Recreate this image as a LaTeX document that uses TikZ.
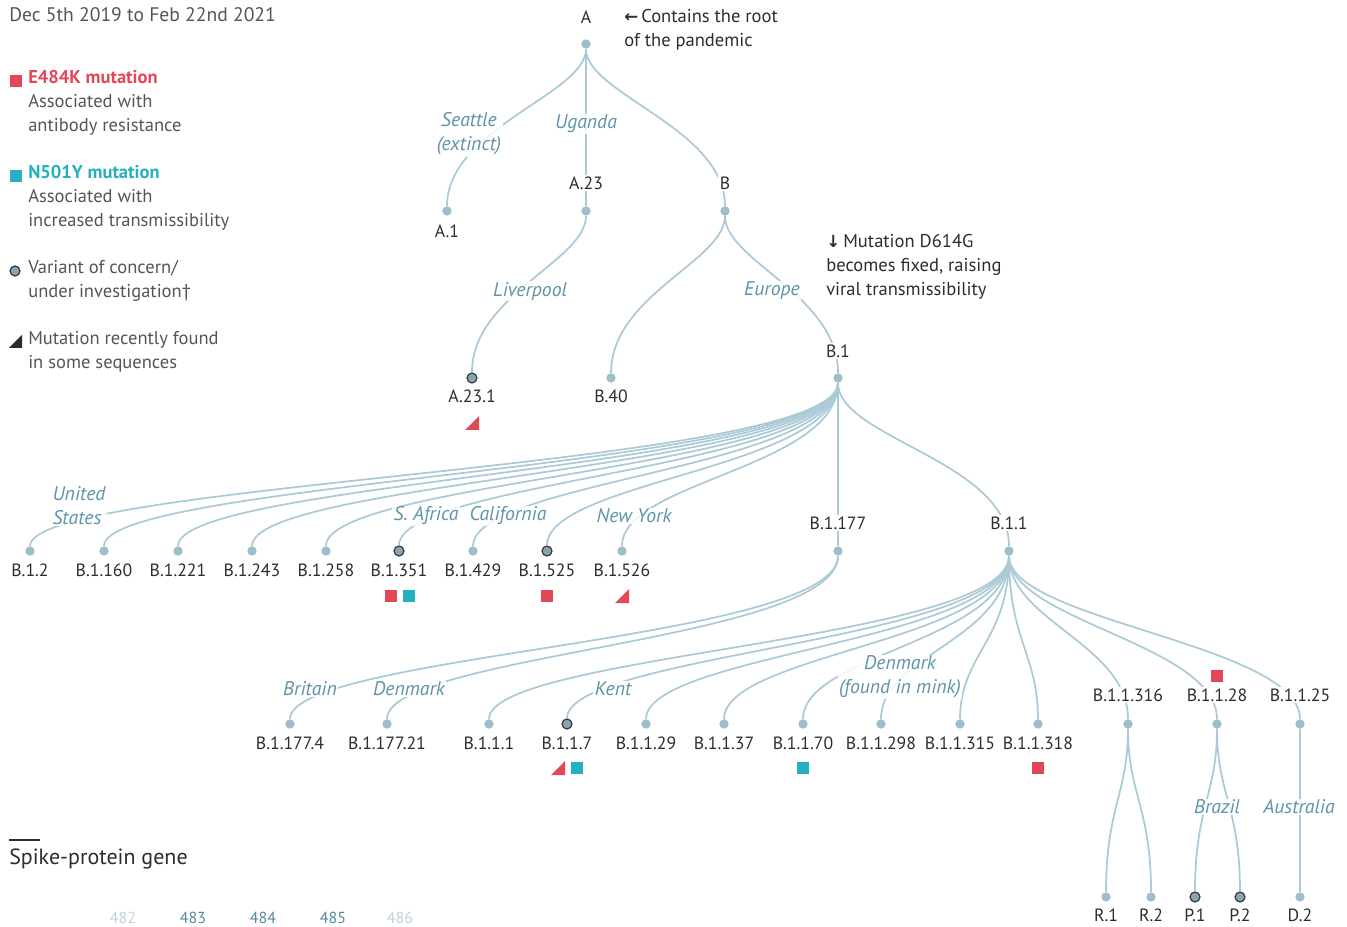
\documentclass[tikz,border=0pt]{standalone}
\usepackage{fontspec}
\setmainfont{PT Sans}
\newfontfamily\symf{DejaVu Sans}
\definecolor{linec}{RGB}{172,202,214}
\definecolor{dotc}{RGB}{158,190,203}
\definecolor{vocf}{RGB}{138,164,175}
\definecolor{vocd}{RGB}{50,60,66}
\definecolor{placec}{RGB}{96,148,168}
\definecolor{labc}{RGB}{45,45,45}
\definecolor{legc}{RGB}{85,85,85}
\definecolor{redc}{RGB}{226,72,88}
\definecolor{tealc}{RGB}{36,176,193}
\definecolor{numc}{RGB}{84,136,158}
\definecolor{numl}{RGB}{190,210,219}
\newcommand\brch[4]{\draw[edge] (#1) .. controls +(0,#3) and +(0,-#4) .. (#2);}
\newcommand\rtri[2]{\fill[redc] (#1-7,#2+7) -- (#1+7,#2+7) -- (#1+7,#2-7) -- cycle;}
\begin{document}
\begin{tikzpicture}[x=0.75pt,y=-0.75pt,
  edge/.style={draw=linec, line width=1.3pt},
  dot/.style={circle, fill=dotc, inner sep=0pt, minimum size=7pt},
  voc/.style={circle, fill=vocf, draw=vocd, line width=0.9pt, inner sep=0pt, minimum size=7.5pt},
  lab/.style={font=\fontsize{13.3}{15}\selectfont, text=labc, inner sep=1pt, fill=white},
  place/.style={font=\itshape\fontsize{14.8}{18}\selectfont, text=placec, align=center, inner sep=1pt, fill=white, fill opacity=0.85, text opacity=1},
  leg/.style={font=\fontsize{13.9}{18}\selectfont, text=legc, align=left, anchor=base west, inner sep=0pt},
  rsq/.style={fill=redc, inner sep=0pt, minimum size=9.5pt},
  tsq/.style={fill=tealc, inner sep=0pt, minimum size=9.5pt}]
\useasboundingbox (0,0) rectangle (1347,927);
% ---------- dots ----------
\node[dot] (A) at (586,44) {};
\node[dot] (A1) at (447,211) {};
\node[dot] (A23) at (586,211) {};
\node[dot] (B) at (725,211) {};
\node[voc] (A231) at (472,378) {};
\node[dot] (B40) at (611,378) {};
\node[dot] (B1) at (838,378) {};
\foreach \n/\x/\s in {B12/30/dot,B1160/104/dot,B1221/178/dot,B1243/252/dot,B1258/326/dot,B1351/399/voc,B1429/473/dot,B1525/547/voc,B1526/622/dot,B1177/838/dot,B11/1009/dot}
  \node[\s] (\n) at (\x,551) {};
\foreach \n/\x/\s in {B11774/290/dot,B117721/387/dot,B111/489/dot,B117/567/voc,B1129/646/dot,B1137/724/dot,B1170/803/dot,B11298/881/dot,B11315/960/dot,B11318/1038/dot,B11316/1128/dot,B1128/1217/dot,B1125/1300/dot}
  \node[\s] (\n) at (\x,724) {};
\foreach \n/\x/\s in {R1/1106/dot,R2/1151/dot,P1/1195/voc,P2/1240/voc,D2/1300/dot}
  \node[\s] (\n) at (\x,897) {};
% ---------- edges ----------
\brch{A}{A1}{50}{83}
\draw[edge] (A) -- (A23);
\brch{A}{B}{50}{83}
\brch{A23}{A231}{50}{83}
\brch{B}{B40}{50}{83}
\brch{B}{B1}{50}{83}
\foreach \n in {B12,B1160,B1221,B1243,B1258,B1351,B1429,B1525,B1526}
  {\brch{B1}{\n}{90}{70}}
\draw[edge] (B1) -- (B1177);
\brch{B1}{B11}{60}{90}
\brch{B1177}{B11774}{90}{70}
\brch{B1177}{B117721}{90}{70}
\foreach \n in {B111,B117,B1129,B1137,B1170,B11298,B11315,B11318}
  {\brch{B11}{\n}{90}{70}}
\foreach \n in {B11316,B1128,B1125}
  {\brch{B11}{\n}{70}{80}}
\brch{B11316}{R1}{70}{90}
\brch{B11316}{R2}{70}{90}
\brch{B1128}{P1}{70}{90}
\brch{B1128}{P2}{70}{90}
\draw[edge] (B1125) -- (D2);
% ---------- node labels ----------
\node[lab] (lA) at (586,17) {A};
\node[lab] (lA1) at (447,231) {A.1};
\node[lab] (lA23) at (586,183) {A.23};
\node[lab] (lB) at (725,183) {B};
\node[lab] (lA231) at (472,396) {A.23.1};
\node[lab] (lB40) at (611,396) {B.40};
\node[lab] (lB1) at (838,351) {B.1};
\foreach \x/\t [count=\i] in {30/B.1.2,104/B.1.160,178/B.1.221,252/B.1.243,326/B.1.258,399/B.1.351,473/B.1.429,547/B.1.525,622/B.1.526}
  \node[lab] (lr\i) at (\x,570) {\t};
\node[lab] (lB1177) at (838,523) {B.1.177};
\node[lab] (lB11) at (1009,523) {B.1.1};
\foreach \x/\t [count=\i] in {290/B.1.177.4,387/B.1.177.21,489/B.1.1.1,567/B.1.1.7,646/B.1.1.29,724/B.1.1.37,803/B.1.1.70,881/B.1.1.298,960/B.1.1.315,1038/B.1.1.318}
  \node[lab] (ls\i) at (\x,743) {\t};
\node[lab] (lB11316) at (1128,695) {B.1.1.316};
\node[lab] (lB1128) at (1217,695) {B.1.1.28};
\node[lab] (lB1125) at (1300,695) {B.1.1.25};
\foreach \x/\t [count=\i] in {1106/R.1,1151/R.2,1195/P.1,1240/P.2,1300/D.2}
  \node[lab] (lt\i) at (\x,915) {\t};
% ---------- place labels ----------
\node[place] (pSea) at (469,134) {Seattle\\(extinct)};
\node[place] (pUga) at (586,124) {Uganda};
\node[place] (pLiv) at (530,291) {Liverpool};
\node[place] (pEur) at (772,291) {Europe};
\node[place, align=left] (pUS) at (79,506) {United\\States};
\node[place] (pSA) at (426,516) {S. Africa};
\node[place] (pCal) at (508,516) {California};
\node[place] (pNY) at (634,516) {New York};
\node[place] (pBri) at (310,689) {Britain};
\node[place] (pDen) at (409,689) {Denmark};
\node[place] (pKen) at (613,689) {Kent};
\node[place] (pMink) at (900,677) {Denmark\\(found in mink)};
\node[place] (pBra) at (1217,807) {Brazil};
\node[place] (pAus) at (1299,807) {Australia};
% ---------- markers ----------
\rtri{472}{423}
\node[rsq] (m1) at (391,596) {};
\node[tsq] (m2) at (409,596) {};
\node[rsq] (m3) at (547,596) {};
\rtri{622}{596}
\rtri{558}{768}
\node[tsq] (m4) at (577,768) {};
\node[tsq] (m5) at (803,768) {};
\node[rsq] (m6) at (1038,768) {};
\node[rsq] (m7) at (1217,676) {};
% ---------- annotations (anchored at baseline of last line) ----------
\node[leg, text=labc] (nRoot) at (624,47) {{\symf\bfseries\fontsize{12.5}{18}\selectfont ←}\,Contains the root\\of the pandemic};
\node[leg, text=labc] (nD614) at (826,296) {{\symf\bfseries\fontsize{12.5}{18}\selectfont ↓}\,Mutation D614G\\becomes fixed, raising\\viral transmissibility};
% ---------- legend ----------
\node[leg, font=\fontsize{14.7}{18}\selectfont] (date) at (9,22) {Dec 5th 2019 to Feb 22nd 2021};
\node[rsq] (lg1) at (16,81) {};
\node[leg] (lt1) at (28,132) {\textcolor{redc}{\bfseries E484K mutation}\\Associated with\\antibody resistance};
\node[tsq] (lg2) at (16,176) {};
\node[leg] (lt2) at (28,227) {\textcolor{tealc}{\bfseries N501Y mutation}\\Associated with\\increased transmissibility};
\node[voc] (lg3) at (15,271) {};
\node[leg] (lt3) at (28,298) {Variant of concern/\\under investigation\textdagger};
\fill[labc] (9,348) -- (22,348) -- (22,335) -- cycle;
\node[leg] (lt4) at (28,369) {Mutation recently found\\in some sequences};
% ---------- spike protein ----------
\draw[labc, line width=1.1pt] (9,840) -- (40,840);
\node[leg, font=\fontsize{16.5}{18}\selectfont, text=labc] (spike) at (9,864) {Spike-protein gene};
\node[font=\fontsize{12}{14}\selectfont, text=numl] (n482) at (123,918) {482};
\node[font=\fontsize{12}{14}\selectfont, text=numc] (n483) at (193,918) {483};
\node[font=\fontsize{12}{14}\selectfont, text=numc] (n484) at (263,918) {484};
\node[font=\fontsize{12}{14}\selectfont, text=numc] (n485) at (333,918) {485};
\node[font=\fontsize{12}{14}\selectfont, text=numl] (n486) at (400,918) {486};
\end{tikzpicture}
\end{document}
